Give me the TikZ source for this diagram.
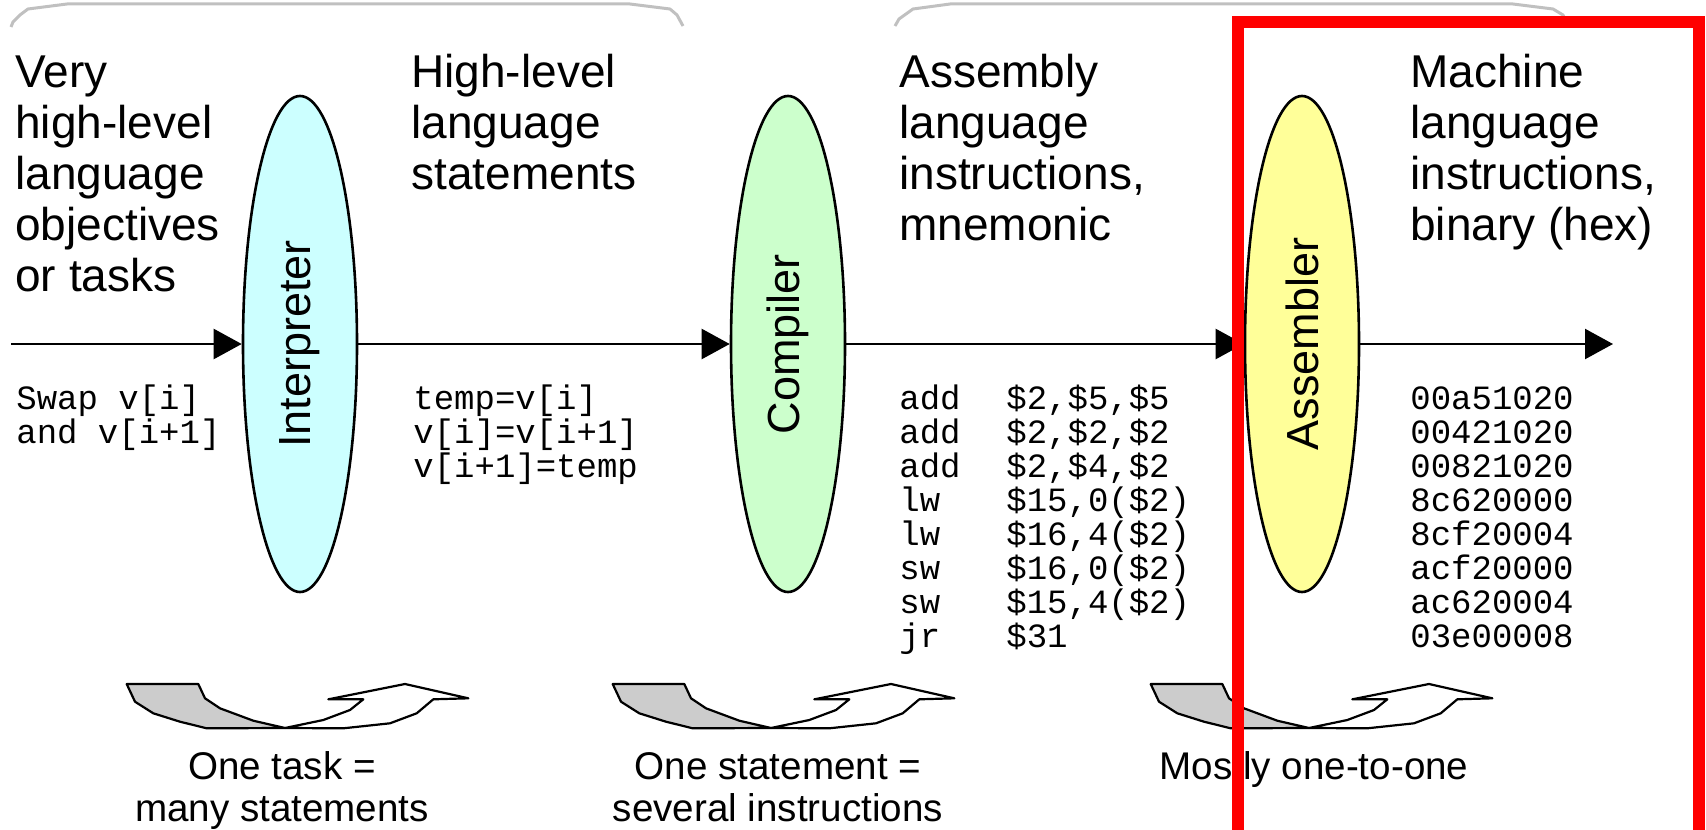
\documentclass[tikz,border=0pt]{standalone}
\usepackage{fontspec}
\setmainfont{Liberation Sans}
\setmonofont{Liberation Mono}
\usetikzlibrary{arrows.meta,shapes.geometric}

\definecolor{interpfill}{HTML}{CCFFFF}
\definecolor{compfill}{HTML}{CCFFCC}
\definecolor{assemfill}{HTML}{FFFF99}
\definecolor{bracegray}{HTML}{C0C0C0}
\definecolor{shadegray}{HTML}{CCCCCC}

\begin{document}
\begin{tikzpicture}[x=0.5pt,y=-0.5pt,
    stage/.style={ellipse, draw, line width=1.3pt, minimum width=248pt, minimum height=57pt,
      inner sep=0pt, rotate=90, font=\fontsize{22.5}{27}\selectfont},
    heading/.style={anchor=base west, align=left, inner sep=0pt, font=\fontsize{23}{25.5}\selectfont},
    code/.style={anchor=base west, align=left, inner sep=0pt, font=\ttfamily\fontsize{17}{17}\selectfont},
    note/.style={anchor=base, align=center, inner sep=0pt, font=\fontsize{19.3}{21}\selectfont},
    flow/.style={line width=1.15pt, -{Triangle[length=14pt,width=15pt]}},
    brace/.style={bracegray, line width=1.5pt, line join=round}]
    \useasboundingbox (0,0) rectangle (1706,829);

    % Brackets over the levels
    \draw[brace] (11,27) -- (13,22) -- (20,15) -- (28,9) -- (67,4) -- (630,4) -- (670,9) -- (677,15) -- (683,26);
    \draw[brace] (895,26) -- (899,19) -- (913,9) -- (950,4) -- (1513,4) -- (1553,9) -- (1563,15) -- (1567,24);

    % Headings (placed at the baseline of their last line)
    \node[heading] (vhll) at (15,291) {Very\\high-level\\language\\objectives\\or tasks};
    \node[heading] (hll) at (411,189) {High-level\\language\\statements};
    \node[heading] (asm) at (899,240) {Assembly\\language\\instructions,\\mnemonic};
    \node[heading] (mach) at (1410,240) {Machine\\language\\instructions,\\binary (hex)};

    % Translators
    \node[stage, fill=interpfill] (interp) at (300,344) {Interpreter};
    \node[stage, fill=compfill] (comp) at (788,344) {Compiler};
    \node[stage, fill=assemfill] (assem) at (1302,344) {Assembler};

    \coordinate (start) at (11,344);
    \coordinate (finish) at (1613,344);

    % Main flow
    \draw[flow] (start) -- (interp);
    \draw[flow] (interp) -- (comp);
    \draw[flow] (comp) -- (assem);
    \draw[flow] (assem) -- (finish);

    % Code samples
    \node[code] (swapcode) at (16,443) {Swap v[i]\\and v[i+1]};
    \node[code] (hllcode) at (413,477) {temp=v[i]\\v[i]=v[i+1]\\v[i+1]=temp};
    \node[code] (asmop) at (899,647) {add\\add\\add\\lw\\lw\\sw\\sw\\jr};
    \node[code] (asmarg) at (1006,647) {\$2,\$5,\$5\\\$2,\$2,\$2\\\$2,\$4,\$2\\\$15,0(\$2)\\\$16,4(\$2)\\\$16,0(\$2)\\\$15,4(\$2)\\\$31};
    \node[code] (hexcode) at (1410,647) {00a51020\\00421020\\00821020\\8c620000\\8cf20004\\acf20000\\ac620004\\03e00008};

    % Turning arrows
    \foreach \dx in {0,486,1024} {
      \begin{scope}[shift={(126.7+\dx,684)}, line width=1.1pt, line join=round]
        \filldraw[fill=white] (158.3,44) -- (216.6,44.3) -- (263.3,39.3) -- (290,29.3) -- (306.6,15.3)
          -- (341.6,14.3) -- (278.3,0) -- (201.6,15.3) -- (236.6,15.3) -- (223.3,26) -- (196.6,36) -- cycle;
        \filldraw[fill=shadegray] (0,0) -- (71.6,0) -- (78.3,14.3) -- (93.3,24.3) -- (126.6,36.7)
          -- (158.3,44) -- (80,44.3) -- (53.3,37.7) -- (26.6,29.3) -- (8.3,17.7) -- cycle;
      \end{scope}
    }

    % Ratios
    \node[note] (ratio1) at (282,821) {One task =\\many statements};
    \node[note] (ratio2) at (778,821) {One statement =\\several instructions};
    \node[note] (ratio3) at (1314,779) {Mostly one-to-one};

    % Highlight
    \draw[red, line width=6pt] (1238,22) rectangle (1699,870);
\end{tikzpicture}
\end{document}
